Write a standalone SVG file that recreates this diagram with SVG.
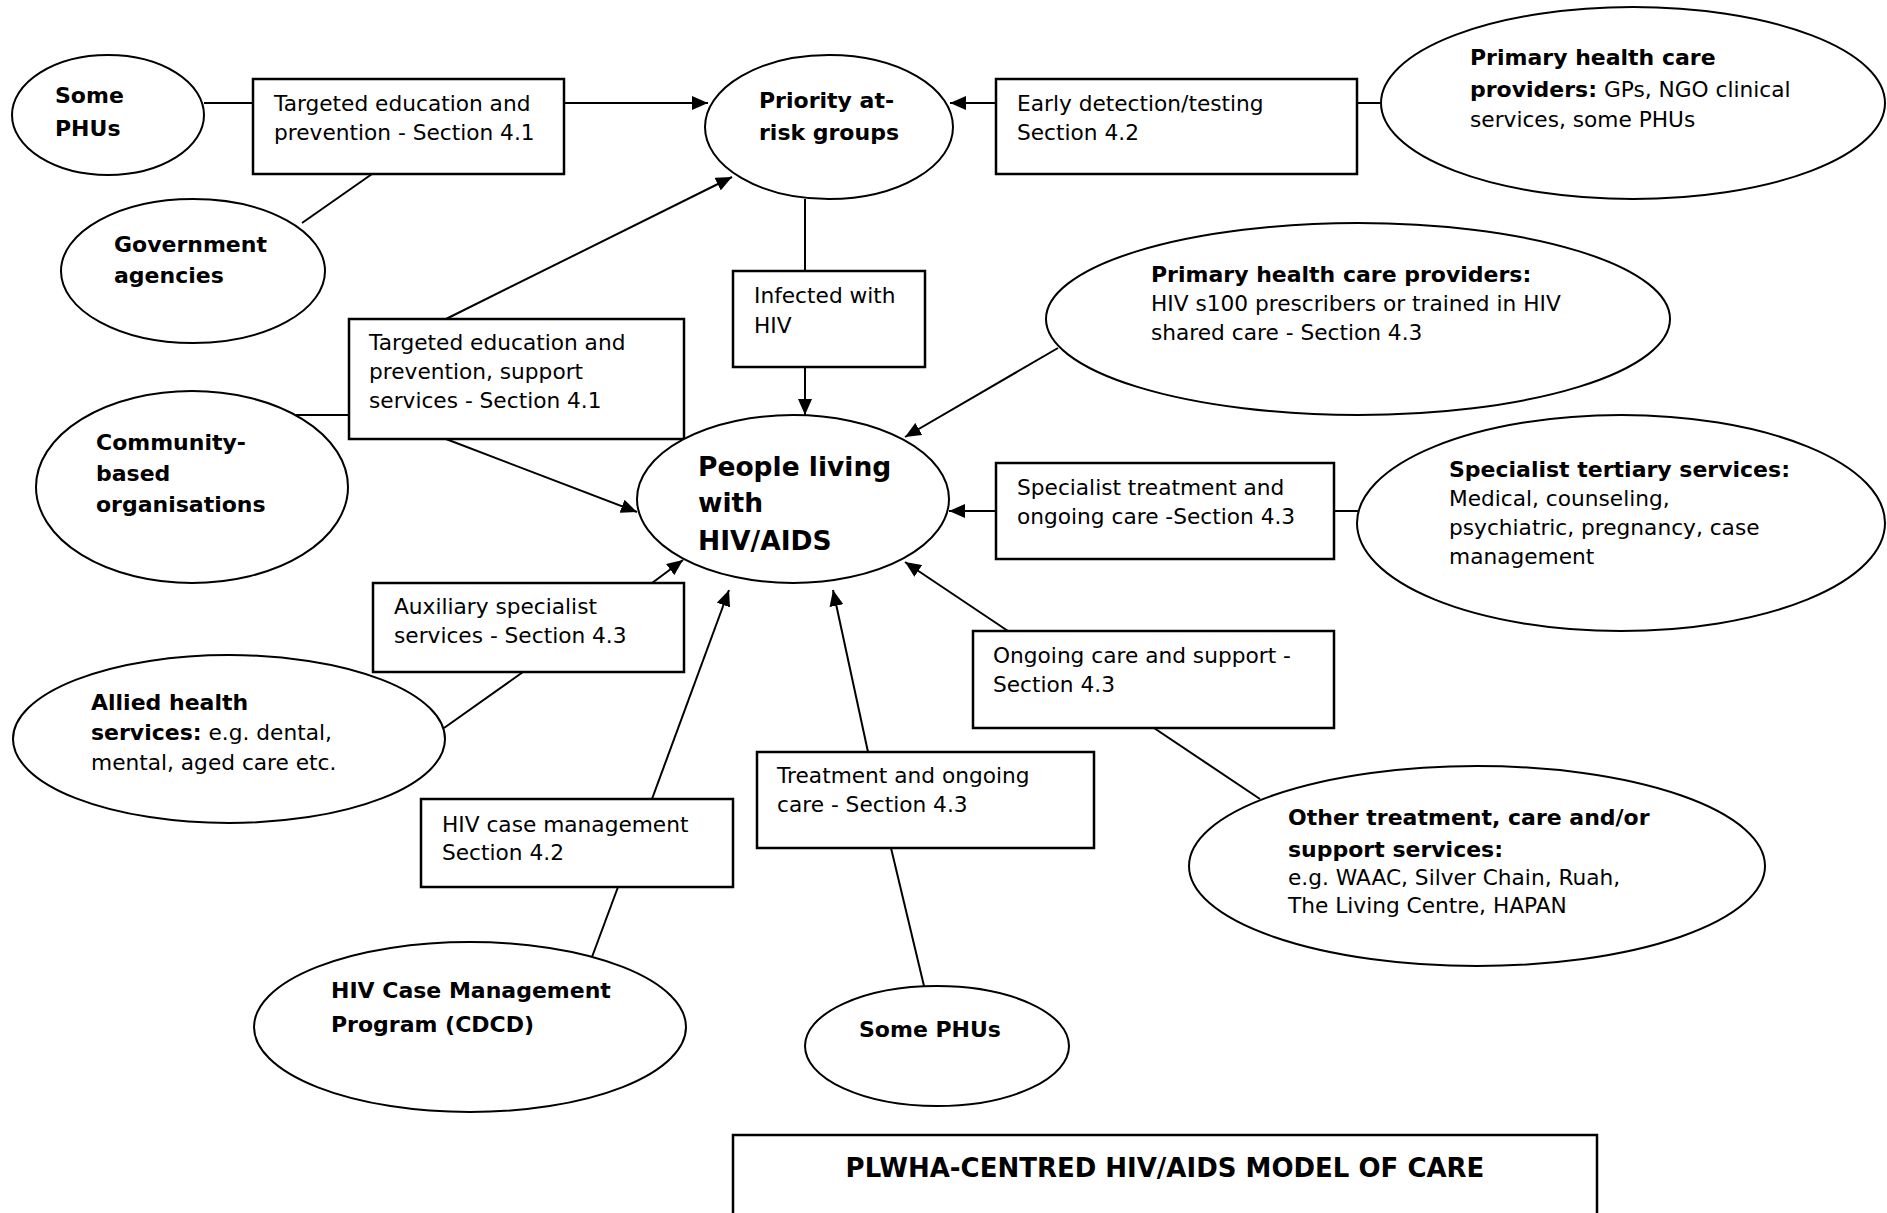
<svg xmlns="http://www.w3.org/2000/svg" width="1887" height="1213" viewBox="0 0 1887 1213">
<style>
.e{fill:#fff;stroke:#000;stroke-width:2}
.r{fill:#fff;stroke:#000;stroke-width:2.5}
text{font-family:"DejaVu Sans",Verdana,sans-serif;font-size:21.7px;fill:#000}
.bd{font-weight:bold;font-size:22px}
.big{font-weight:bold;font-size:26.5px}
.c{stroke:#000;stroke-width:2;fill:none}
</style>
<defs>
<marker id="ah" markerUnits="userSpaceOnUse" markerWidth="16" markerHeight="14" refX="16" refY="7" orient="auto"><path d="M0,0 L16,7 L0,14 z" fill="#000"/></marker>
</defs>
<rect width="1887" height="1213" fill="#fff"/>

<g id="n-somephus1"><ellipse class="e" cx="108" cy="115" rx="96" ry="60"/><text class="bd" x="55" y="103">Some</text><text class="bd" x="55" y="136">PHUs</text></g>
<g id="n-gov"><ellipse class="e" cx="193" cy="271" rx="132" ry="72"/><text class="bd" x="114" y="252">Government</text><text class="bd" x="114" y="283">agencies</text></g>
<g id="n-box1"><rect class="r" x="253" y="79" width="311" height="95"/><text x="274" y="111">Targeted education and</text><text x="274" y="140">prevention - Section 4.1</text></g>
<g id="n-priority"><ellipse class="e" cx="829" cy="127" rx="124" ry="72"/><text class="bd" x="759" y="108">Priority at-</text><text class="bd" x="759" y="140">risk groups</text></g>
<g id="n-early"><rect class="r" x="996" y="79" width="361" height="95"/><text x="1017" y="111">Early detection/testing</text><text x="1017" y="140">Section 4.2</text></g>
<g id="n-phc1"><ellipse class="e" cx="1633" cy="103" rx="252" ry="96"/><text class="bd" x="1470" y="65">Primary health care</text><text x="1470" y="97"><tspan class="bd">providers:</tspan> GPs, NGO clinical</text><text x="1470" y="127">services, some PHUs</text></g>
<g id="n-infected"><rect class="r" x="733" y="271" width="192" height="96"/><text x="754" y="303">Infected with</text><text x="754" y="333">HIV</text></g>
<g id="n-box2"><rect class="r" x="349" y="319" width="335" height="120"/><text x="369" y="350">Targeted education and</text><text x="369" y="379">prevention, support</text><text x="369" y="408">services - Section 4.1</text></g>
<g id="n-community"><ellipse class="e" cx="192" cy="487" rx="156" ry="96"/><text class="bd" x="96" y="450">Community-</text><text class="bd" x="96" y="481">based</text><text class="bd" x="96" y="512">organisations</text></g>
<g id="n-phc2"><ellipse class="e" cx="1358" cy="319" rx="312" ry="96"/><text class="bd" x="1151" y="282">Primary health care providers:</text><text x="1151" y="311">HIV s100 prescribers or trained in HIV</text><text x="1151" y="340">shared care - Section 4.3</text></g>
<g id="n-people"><ellipse class="e" cx="793" cy="499" rx="156" ry="84"/><text class="big" x="698" y="476">People living</text><text class="big" x="698" y="512">with</text><text class="big" x="698" y="550">HIV/AIDS</text></g>
<g id="n-specbox"><rect class="r" x="996" y="463" width="338" height="96"/><text x="1017" y="495">Specialist treatment and</text><text x="1017" y="524">ongoing care -Section 4.3</text></g>
<g id="n-spec"><ellipse class="e" cx="1621" cy="523" rx="264" ry="108"/><text class="bd" x="1449" y="477">Specialist tertiary services:</text><text x="1449" y="506">Medical, counseling,</text><text x="1449" y="535">psychiatric, pregnancy, case</text><text x="1449" y="564">management</text></g>
<g id="n-aux"><rect class="r" x="373" y="583" width="311" height="89"/><text x="394" y="614">Auxiliary specialist</text><text x="394" y="643">services - Section 4.3</text></g>
<g id="n-allied"><ellipse class="e" cx="229" cy="739" rx="216" ry="84"/><text class="bd" x="91" y="710">Allied health</text><text x="91" y="740"><tspan class="bd">services:</tspan> e.g. dental,</text><text x="91" y="770">mental, aged care etc.</text></g>
<g id="n-ongoing"><rect class="r" x="973" y="631" width="361" height="97"/><text x="993" y="663">Ongoing care and support -</text><text x="993" y="692">Section 4.3</text></g>
<g id="n-treatment"><rect class="r" x="757" y="752" width="337" height="96"/><text x="777" y="783">Treatment and ongoing</text><text x="777" y="812">care - Section 4.3</text></g>
<g id="n-hivbox"><rect class="r" x="421" y="799" width="312" height="88"/><text x="442" y="832">HIV case management</text><text x="442" y="860">Section 4.2</text></g>
<g id="n-other"><ellipse class="e" cx="1477" cy="866" rx="288" ry="100"/><text class="bd" x="1288" y="825">Other treatment, care and/or</text><text class="bd" x="1288" y="857">support services:</text><text x="1288" y="885">e.g. WAAC, Silver Chain, Ruah,</text><text x="1288" y="913">The Living Centre, HAPAN</text></g>
<g id="n-hivcm"><ellipse class="e" cx="470" cy="1027" rx="216" ry="85"/><text class="bd" x="331" y="998">HIV Case Management</text><text class="bd" x="331" y="1032">Program (CDCD)</text></g>
<g id="n-somephus2"><ellipse class="e" cx="937" cy="1046" rx="132" ry="60"/><text class="bd" x="859" y="1037">Some PHUs</text></g>
<g id="n-title"><rect class="r" x="733" y="1135" width="864" height="100"/><text x="1165" y="1177" text-anchor="middle" style="font-weight:bold;font-size:26px">PLWHA-CENTRED HIV/AIDS MODEL OF CARE</text></g>

<g id="connectors">
<line class="c" x1="204" y1="103" x2="253" y2="103"/>
<line class="c" x1="372" y1="174" x2="302" y2="223"/>
<line class="c" x1="805" y1="199" x2="805" y2="271"/>
<line class="c" x1="296" y1="415" x2="349" y2="415"/>
<line class="c" x1="1357" y1="103" x2="1382" y2="103"/>
<line class="c" x1="523" y1="672" x2="444" y2="728"/>
<line class="c" x1="618" y1="887" x2="592" y2="957"/>
<line class="c" x1="891" y1="848" x2="924" y2="986"/>
<line class="c" x1="1334" y1="511" x2="1358" y2="511"/>
<line class="c" x1="1154" y1="728" x2="1260" y2="799"/>
<line class="c" x1="564" y1="103" x2="708" y2="103" marker-end="url(#ah)"/>
<line class="c" x1="996" y1="103" x2="950" y2="103" marker-end="url(#ah)"/>
<line class="c" x1="446" y1="319" x2="732" y2="177" marker-end="url(#ah)"/>
<line class="c" x1="805" y1="367" x2="805" y2="415" marker-end="url(#ah)"/>
<line class="c" x1="446" y1="439" x2="637" y2="512" marker-end="url(#ah)"/>
<line class="c" x1="1058" y1="348" x2="905" y2="437" marker-end="url(#ah)"/>
<line class="c" x1="996" y1="511" x2="949" y2="511" marker-end="url(#ah)"/>
<line class="c" x1="652" y1="583" x2="683" y2="560" marker-end="url(#ah)"/>
<line class="c" x1="652" y1="799" x2="729" y2="590" marker-end="url(#ah)"/>
<line class="c" x1="868" y1="752" x2="833" y2="590" marker-end="url(#ah)"/>
<line class="c" x1="1008" y1="631" x2="905" y2="562" marker-end="url(#ah)"/>
</g>
</svg>
